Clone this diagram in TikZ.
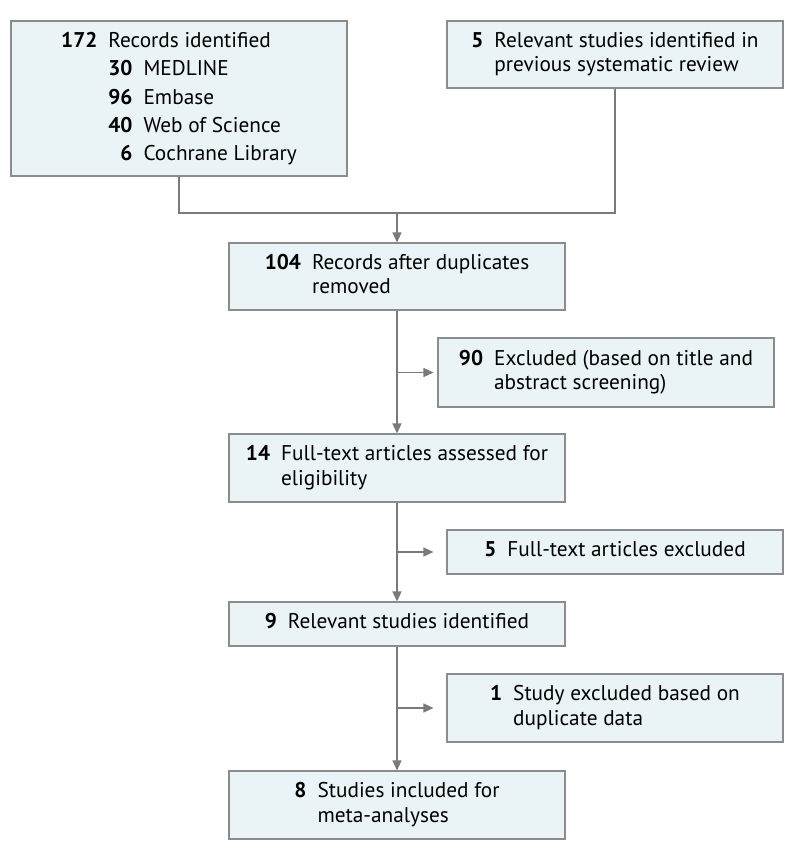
\documentclass[tikz,border=0pt]{standalone}
\usepackage{fontspec}
\setmainfont{PT Sans}
\usetikzlibrary{arrows.meta}
\definecolor{boxfill}{HTML}{EAF3F5}
\definecolor{boxdraw}{HTML}{8C8C8C}
\definecolor{linec}{HTML}{7A7A7A}
\newcommand\numtext[2]{\begin{tabular}{@{}r@{\hspace{11pt}}l@{}}#1&#2\end{tabular}}
\begin{document}
\begin{tikzpicture}[x=1pt,y=-1pt,
  box/.style={draw=boxdraw, fill=boxfill, line width=1.1pt, minimum width=336pt, inner sep=0pt, align=left,
     font=\fontsize{21.3}{24.5}\selectfont},
  conn/.style={draw=linec, line width=1.3pt},
  arr/.style={conn, -{Triangle[length=10pt,width=9pt]}}]
\useasboundingbox (0,0) rectangle (794,860);
\fill[white] (0,0) rectangle (794,860);

\node[box, minimum height=155pt, font=\fontsize{21.3}{28.2}\selectfont] (b1) at (179,98.5)
 {\begin{tabular}{@{}r@{\hspace{11pt}}l@{}}\textbf{172}&Records identified\\
  &\begin{tabular}[t]{@{}r@{\hspace{11pt}}l@{}}\textbf{30}&MEDLINE\\\textbf{96}&Embase\\\textbf{40}&Web of Science\\\textbf{6}&Cochrane Library\end{tabular}\end{tabular}};
\node[box, minimum height=67pt] (b2) at (615,54.5)
 {\numtext{\textbf{5}}{Relevant studies identified in\\&previous systematic review}};
\node[box, minimum height=67pt] (b3) at (397,276.5)
 {\numtext{\textbf{104}}{Records after duplicates\\&removed}};
\node[box, minimum height=69pt] (b90) at (606,372.5)
 {\numtext{\textbf{90}}{Excluded (based on title and\\&abstract screening)}};
\node[box, minimum height=68pt] (b14) at (397,468)
 {\numtext{\textbf{14}}{Full-text articles assessed for\\&eligibility}};
\node[box, minimum height=44pt] (b5) at (615,552)
 {\numtext{\textbf{5}}{Full-text articles excluded}};
\node[box, minimum height=44pt] (b9) at (397,624)
 {\numtext{\textbf{9}}{Relevant studies identified}};
\node[box, minimum height=68pt] (b1s) at (615,708)
 {\numtext{\textbf{1}}{Study excluded based on\\&duplicate data}};
\node[box, minimum height=68pt] (b8) at (397,805)
 {\numtext{\textbf{8}}{Studies included for\\&meta-analyses}};

\coordinate (m) at (397,213);
\draw[conn] (b1.south) |- (m) -| (b2.south);
\draw[arr] (m) -- (b3.north);

\coordinate (j1) at (b3.south |- b90.west);
\draw[arr] (b3.south) -- (b14.north);
\draw[arr, shorten >=4pt] (j1) -- (b90.west);

\coordinate (j2) at (b14.south |- b5.west);
\draw[arr] (b14.south) -- (b9.north);
\draw[arr, shorten >=13pt] (j2) -- (b5.west);

\coordinate (j3) at (b9.south |- b1s.west);
\draw[arr] (b9.south) -- (b8.north);
\draw[arr, shorten >=13pt] (j3) -- (b1s.west);
\end{tikzpicture}
\end{document}
